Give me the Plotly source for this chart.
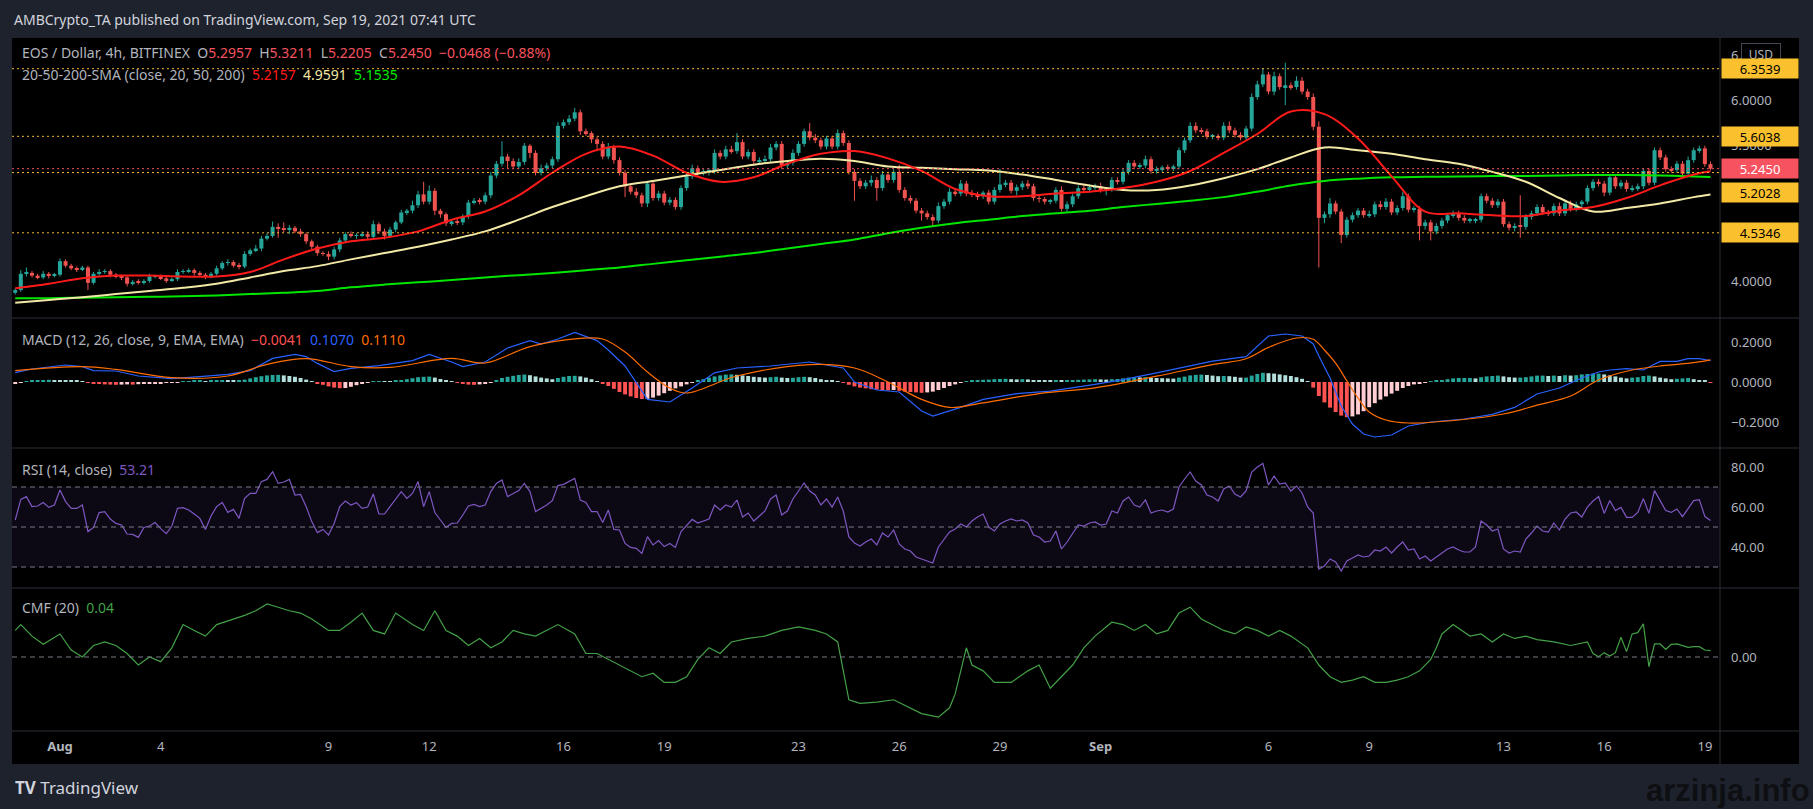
import pandas as pd
import plotly.graph_objects as go

W, H = 1813, 809

# ---------------------------------------------------------------------------
# values: EOS / Dollar, 4h bars, Bitfinex
# ---------------------------------------------------------------------------
first_bar = "2021-07-30 16:00"
first_open = 3.87

closes = [
    3.90, 4.08, 4.09, 4.06, 4.04, 4.08, 4.06, 4.07, 4.22, 4.17, 4.14, 4.13,
    4.15, 3.98, 4.08, 4.10, 4.11, 4.07, 4.05, 4.04, 3.97, 3.99, 3.98, 4.00,
    4.05, 4.05, 4.03, 4.01, 4.02, 4.10, 4.11, 4.12, 4.09, 4.07, 4.05, 4.08,
    4.14, 4.20, 4.21, 4.17, 4.16, 4.30, 4.34, 4.36, 4.47, 4.50, 4.60, 4.58,
    4.57, 4.59, 4.55, 4.52, 4.44, 4.38, 4.31, 4.30, 4.27, 4.35, 4.45, 4.52,
    4.50, 4.51, 4.52, 4.49, 4.63, 4.55, 4.50, 4.57, 4.65, 4.76, 4.78, 4.84,
    4.96, 4.88, 5.00, 4.78, 4.74, 4.64, 4.66, 4.65, 4.72, 4.87, 4.89, 4.88,
    4.95, 5.17, 5.30, 5.38, 5.33, 5.27, 5.32, 5.50, 5.42, 5.20, 5.25, 5.28,
    5.35, 5.72, 5.76, 5.80, 5.87, 5.66, 5.64, 5.57, 5.52, 5.38, 5.48, 5.34,
    5.20, 5.05, 4.99, 4.95, 4.86, 5.08, 4.92, 4.97, 4.87, 4.90, 4.82, 5.03,
    5.16, 5.25, 5.20, 5.21, 5.22, 5.42, 5.38, 5.46, 5.44, 5.54, 5.38, 5.43,
    5.33, 5.34, 5.35, 5.48, 5.52, 5.28, 5.31, 5.42, 5.52, 5.66, 5.59, 5.56,
    5.49, 5.58, 5.49, 5.64, 5.53, 5.21, 5.11, 5.05, 5.09, 5.12, 5.03, 5.18,
    5.12, 5.21, 5.01, 4.92, 4.89, 4.78, 4.75, 4.71, 4.67, 4.83, 4.88, 4.99,
    4.97, 5.08, 4.97, 4.96, 4.94, 4.98, 4.88, 5.01, 5.07, 5.09, 5.00, 5.04,
    5.08, 5.05, 4.92, 4.91, 4.88, 4.89, 5.01, 4.80, 4.85, 4.94, 5.03, 5.01,
    5.04, 5.05, 5.01, 5.02, 5.12, 5.10, 5.21, 5.31, 5.27, 5.28, 5.35, 5.22,
    5.24, 5.26, 5.25, 5.27, 5.45, 5.56, 5.72, 5.67, 5.66, 5.60, 5.60, 5.59,
    5.72, 5.67, 5.62, 5.59, 5.69, 6.04, 6.18, 6.29, 6.10, 6.27, 6.15, 6.17,
    6.15, 6.22, 6.10, 6.04, 5.71, 4.70, 4.74, 4.86, 4.77, 4.51, 4.68, 4.73,
    4.78, 4.73, 4.74, 4.85, 4.82, 4.88, 4.76, 4.81, 4.94, 4.79, 4.80, 4.61,
    4.65, 4.55, 4.61, 4.67, 4.73, 4.75, 4.70, 4.67, 4.67, 4.68, 4.94, 4.89,
    4.84, 4.88, 4.63, 4.59, 4.61, 4.60, 4.71, 4.75, 4.82, 4.76, 4.75, 4.83,
    4.75, 4.86, 4.80, 4.85, 4.88, 5.03, 5.10, 5.08, 4.98, 5.15, 5.05, 5.09,
    5.02, 5.03, 5.05, 5.22, 5.09, 5.45, 5.37, 5.24, 5.23, 5.30, 5.19, 5.34,
    5.45, 5.47, 5.2957, 5.2450,
]

# wick length above / below the body, in cents
wick_up = [
    2, 4, 6, 2, 2, 3, 2, 2, 3, 2, 2, 2,
    2, 2, 2, 3, 2, 2, 2, 2, 2, 2, 3, 2,
    3, 2, 2, 2, 2, 3, 2, 2, 2, 2, 2, 2,
    3, 2, 3, 2, 3, 3, 2, 4, 3, 3, 6, 4,
    7, 3, 2, 3, 2, 2, 2, 2, 3, 3, 3, 2,
    3, 2, 3, 3, 4, 2, 3, 3, 2, 3, 2, 5,
    4, 14, 6, 3, 2, 2, 2, 3, 2, 3, 3, 3,
    3, 4, 3, 17, 3, 3, 4, 3, 2, 3, 4, 3,
    3, 4, 3, 4, 5, 3, 3, 2, 3, 3, 5, 3,
    3, 3, 3, 4, 3, 3, 4, 3, 3, 3, 3, 3,
    3, 4, 3, 3, 3, 4, 3, 4, 4, 10, 3, 3,
    3, 3, 4, 4, 3, 3, 3, 4, 3, 3, 9, 4,
    3, 3, 3, 4, 3, 3, 3, 3, 3, 5, 3, 4,
    3, 3, 8, 3, 3, 3, 3, 3, 3, 4, 3, 4,
    3, 4, 3, 4, 3, 2, 3, 3, 17, 3, 3, 3,
    3, 4, 3, 3, 2, 2, 3, 4, 3, 3, 3, 4,
    3, 3, 4, 2, 3, 3, 4, 3, 3, 3, 4, 3,
    3, 2, 3, 2, 3, 3, 4, 4, 3, 3, 3, 3,
    4, 5, 3, 3, 3, 4, 4, 7, 3, 5, 3, 25,
    3, 5, 4, 3, 4, 6, 3, 6, 3, 3, 3, 3,
    3, 3, 4, 3, 4, 4, 3, 3, 5, 3, 3, 3,
    3, 3, 3, 3, 2, 3, 3, 3, 3, 2, 3, 3,
    3, 3, 3, 3, 3, 34, 3, 3, 3, 3, 3, 3,
    4, 3, 3, 3, 2, 3, 3, 3, 3, 3, 3, 3,
    3, 3, 3, 3, 3, 3, 3, 3, 3, 3, 3, 4,
    3, 3, 3, 3,
]
wick_down = [
    2, 2, 3, 2, 2, 2, 3, 2, 2, 2, 2, 3,
    2, 8, 2, 2, 2, 3, 2, 3, 3, 2, 2, 2,
    2, 2, 2, 3, 2, 2, 2, 2, 3, 2, 3, 2,
    2, 2, 3, 2, 3, 2, 2, 2, 3, 2, 2, 10,
    3, 5, 2, 3, 3, 3, 3, 2, 4, 3, 3, 3,
    2, 3, 2, 3, 3, 3, 4, 2, 3, 2, 3, 3,
    3, 3, 3, 5, 4, 3, 3, 3, 3, 3, 2, 3,
    3, 3, 3, 3, 8, 3, 3, 3, 6, 3, 3, 3,
    3, 3, 3, 3, 3, 4, 3, 4, 8, 3, 3, 4,
    3, 12, 3, 3, 4, 4, 3, 3, 3, 3, 3, 3,
    3, 3, 3, 3, 4, 3, 3, 3, 3, 3, 3, 3,
    4, 3, 3, 3, 3, 4, 3, 3, 3, 3, 3, 3,
    3, 3, 3, 3, 3, 3, 22, 3, 3, 4, 14, 3,
    3, 3, 3, 3, 3, 3, 8, 3, 6, 3, 3, 3,
    3, 3, 3, 3, 4, 3, 3, 3, 3, 3, 3, 5,
    3, 3, 3, 4, 3, 3, 3, 3, 4, 3, 3, 3,
    3, 3, 3, 6, 3, 3, 3, 3, 3, 3, 3, 3,
    3, 3, 3, 3, 3, 3, 3, 3, 3, 3, 3, 3,
    3, 3, 3, 3, 3, 3, 3, 3, 3, 4, 3, 20,
    3, 3, 3, 3, 4, 55, 6, 4, 3, 9, 3, 3,
    3, 3, 3, 3, 3, 3, 3, 3, 3, 3, 3, 16,
    4, 10, 3, 3, 3, 3, 3, 3, 3, 3, 3, 3,
    3, 3, 3, 3, 4, 12, 3, 3, 3, 3, 3, 3,
    3, 3, 3, 3, 3, 3, 3, 3, 4, 3, 3, 3,
    3, 3, 3, 3, 3, 3, 3, 3, 3, 3, 3, 3,
    3, 3, 3, 2,
]

# moving averages, read once per day (bar numbers)
sma_bars = list(range(0, 301, 6)) + [303]
sma20 = [3.92, 3.97, 4.03, 4.06, 4.06, 4.05, 4.05, 4.10, 4.24, 4.36,
         4.44, 4.48, 4.55, 4.68, 4.77, 4.95, 5.20, 5.41, 5.49, 5.39,
         5.20, 5.10, 5.15, 5.30, 5.41, 5.44, 5.36, 5.22, 5.02, 4.94,
         4.94, 4.97, 4.99, 5.03, 5.10, 5.22, 5.42, 5.63, 5.88, 5.85,
         5.58, 5.16, 4.77, 4.75, 4.73, 4.72, 4.78, 4.82, 4.92, 5.06,
         5.18, 5.2157]
sma50 = [3.76, 3.79, 3.82, 3.855, 3.89, 3.925, 3.97, 4.04, 4.11, 4.165,
         4.24, 4.31, 4.38, 4.46, 4.55, 4.68, 4.82, 4.94, 5.05, 5.11,
         5.17, 5.23, 5.29, 5.33, 5.355, 5.33, 5.27, 5.255, 5.24, 5.225,
         5.18, 5.12, 5.06, 5.01, 5.01, 5.06, 5.14, 5.24, 5.37, 5.48,
         5.45, 5.41, 5.35, 5.30, 5.21, 5.10, 4.92, 4.77, 4.81, 4.86,
         4.93, 4.9591]
sma200 = [3.81, 3.81, 3.815, 3.82, 3.825, 3.83, 3.84, 3.855, 3.87, 3.89,
          3.93, 3.96, 3.985, 4.01, 4.04, 4.065, 4.09, 4.12, 4.15, 4.19,
          4.23, 4.27, 4.31, 4.36, 4.41, 4.46, 4.53, 4.59, 4.64, 4.68,
          4.72, 4.75, 4.78, 4.82, 4.855, 4.89, 4.93, 4.99, 5.06, 5.11,
          5.135, 5.15, 5.155, 5.16, 5.163, 5.165, 5.17, 5.175, 5.175, 5.17,
          5.16, 5.1535]

# MACD (12, 26, 9)
macd_bars = [0, 3, 9, 12, 14, 18, 22, 28, 33, 38, 42, 46, 50, 52, 54, 57, 60,
             65, 71, 74, 78, 80, 84, 88, 92, 94, 97, 100, 104, 106, 109, 113,
             117, 121, 125, 129, 135, 142, 148, 150, 154, 158, 162, 164, 169,
             173, 179, 185, 193, 198, 204, 208, 214, 220, 224, 227, 230, 232,
             233, 235, 237, 239, 241, 243, 246, 249, 253, 259, 264, 268, 272,
             276, 280, 283, 285, 288, 291, 292, 294, 297, 299, 301, 303]
macd_line = [0.047, 0.065, 0.085, 0.077, 0.057, 0.055, 0.030, 0.017, 0.027,
             0.038, 0.057, 0.118, 0.138, 0.127, 0.093, 0.052, 0.068, 0.082,
             0.107, 0.138, 0.100, 0.077, 0.100, 0.170, 0.207, 0.190, 0.215,
             0.248, 0.207, 0.160, 0.080, -0.087, -0.100, -0.030, 0.046, 0.070,
             0.080, 0.100, 0.070, 0.000, -0.040, -0.050, -0.145, -0.170,
             -0.127, -0.087, -0.058, -0.046, -0.012, 0.012, 0.046, 0.070,
             0.104, 0.127, 0.230, 0.240, 0.230, 0.190, 0.130, 0.020, -0.120,
             -0.210, -0.260, -0.275, -0.265, -0.220, -0.200, -0.185, -0.162,
             -0.127, -0.060, -0.030, 0.020, 0.050, 0.060, 0.067, 0.060, 0.075,
             0.103, 0.103, 0.117, 0.117, 0.107]
signal_bars = [0, 12, 18, 28, 38, 45, 52, 60, 67, 78, 84, 92, 101, 105, 109,
               113, 117, 120, 129, 142, 150, 156, 162, 167, 173, 183, 193, 204,
               214, 220, 224, 229, 232, 234, 236, 238, 240, 242, 245, 249, 258,
               266, 272, 278, 283, 289, 295, 300, 303]
signal_line = [0.057, 0.077, 0.063, 0.022, 0.030, 0.088, 0.117, 0.077, 0.073,
               0.118, 0.095, 0.177, 0.218, 0.215, 0.150, 0.050, -0.030, -0.055,
               0.030, 0.087, 0.070, 0.000, -0.087, -0.127, -0.104, -0.058,
               -0.029, 0.029, 0.087, 0.116, 0.173, 0.220, 0.214, 0.160, 0.094,
               0.006, -0.080, -0.150, -0.190, -0.205, -0.190, -0.160, -0.116,
               -0.070, 0.010, 0.060, 0.083, 0.097, 0.111]
# histogram, one column per bar, in thousandths
macd_hist = [
    -6, -3, 4, 7, 9, 10, 11, 10, 9, 8, 7, 6,
    3, -4, -8, -10, -12, -13, -14, -13, -12, -13, -11, -9,
    -8, -7, -6, -5, -4, -2, 3, 5, 6, 6, 5, 6,
    7, 8, 7, 6, 8, 12, 18, 24, 29, 33, 35, 36,
    33, 30, 26, 20, 12, 4, -6, -14, -22, -28, -31, -30,
    -24, -16, -8, -3, 2, 3, 2, 1, 6, 10, 14, 19,
    24, 26, 27, 22, 15, 8, 3, -4, -9, -13, -14, -12,
    -8, -2, 10, 20, 26, 31, 35, 37, 34, 28, 22, 18,
    14, 20, 26, 30, 31, 28, 22, 14, 4, -8, -20, -34,
    -50, -62, -72, -80, -85, -84, -78, -68, -56, -44, -32, -22,
    -12, -4, 6, 14, 22, 28, 33, 37, 38, 36, 33, 30,
    26, 24, 22, 24, 26, 22, 20, 21, 24, 26, 24, 20,
    14, 10, 6, 2, -4, -14, -22, -28, -32, -36, -38, -40,
    -42, -40, -44, -48, -50, -52, -54, -52, -48, -40, -30, -20,
    -12, -4, 3, 6, 9, 11, 12, 14, 15, 16, 14, 13,
    14, 13, 10, 8, 7, 6, 8, 6, 7, 9, 11, 12,
    13, 14, 13, 12, 14, 15, 18, 22, 24, 23, 24, 21,
    20, 19, 18, 17, 22, 27, 33, 36, 37, 35, 32, 29,
    30, 29, 26, 22, 22, 32, 40, 46, 44, 42, 38, 34,
    30, 24, 16, 2, -28, -70, -102, -128, -150, -168, -176, -172,
    -162, -146, -126, -106, -88, -72, -58, -44, -30, -20, -12, -6,
    -2, 2, 6, 10, 14, 18, 20, 20, 20, 18, 24, 28,
    30, 32, 28, 24, 22, 22, 24, 28, 32, 32, 30, 32,
    30, 34, 32, 34, 38, 40, 42, 42, 38, 33, 28, 22,
    18, 22, 24, 30, 32, 28, 22, 18, 14, 16, 18, 20,
    14, 10, 8, -4,
]

# RSI (14), one value per bar
rsi = [
    53.5, 63.8, 65.2, 60.2, 60.5, 62.2, 59.8, 61.0, 68.5, 62.7, 59.3, 59.3,
    61.0, 47.7, 49.8, 57.2, 57.7, 54.0, 51.8, 51.0, 46.5, 46.3, 44.8, 49.8,
    50.5, 52.2, 49.2, 46.7, 50.5, 59.3, 59.7, 58.5, 56.5, 54.3, 48.7, 55.5,
    60.2, 62.3, 57.3, 58.8, 54.3, 64.3, 66.8, 66.8, 72.7, 73.8, 77.7, 71.8,
    72.5, 73.8, 66.0, 66.3, 60.2, 52.7, 47.2, 48.8, 46.0, 51.8, 60.2, 63.0,
    61.0, 62.2, 59.3, 60.0, 66.5, 56.5, 56.5, 60.2, 63.5, 67.7, 64.3, 66.8,
    72.7, 60.2, 67.7, 57.2, 53.5, 49.8, 51.8, 52.0, 56.0, 60.5, 61.3, 60.2,
    61.0, 67.7, 71.8, 73.5, 65.2, 66.8, 68.2, 71.8, 67.7, 57.7, 59.3, 61.0,
    63.2, 70.7, 71.3, 72.7, 74.3, 63.5, 62.3, 57.7, 57.7, 52.2, 58.5, 48.8,
    48.5, 41.8, 39.8, 39.3, 36.8, 45.2, 41.0, 43.2, 40.2, 41.8, 39.8, 47.7,
    51.0, 53.8, 52.0, 53.0, 54.0, 61.0, 58.5, 61.0, 60.0, 63.5, 55.0, 57.0,
    53.0, 55.5, 58.0, 64.0, 66.0, 56.0, 58.0, 64.0, 68.0, 72.0, 68.0, 66.0,
    61.0, 64.0, 60.0, 65.0, 58.0, 45.0, 42.0, 40.5, 42.5, 44.0, 41.0, 47.0,
    45.0, 48.5, 41.5, 39.0, 38.0, 35.0, 34.0, 33.0, 32.0, 40.0, 43.5, 47.5,
    49.0, 51.5, 50.0, 53.0, 55.0, 56.5, 50.0, 48.0, 51.5, 53.0, 54.0, 53.0,
    53.5, 52.0, 46.0, 45.0, 42.5, 43.0, 48.0, 39.0, 42.5, 47.0, 51.0, 50.5,
    52.0, 52.5, 51.0, 51.5, 58.0, 57.0, 63.0, 65.0, 61.0, 60.0, 63.5, 57.0,
    58.0, 58.5, 57.5, 59.0, 70.0, 74.0, 77.5, 73.0, 71.0, 66.0, 65.0, 63.0,
    69.0, 70.5, 66.5, 65.0, 68.0, 77.5, 80.0, 81.8, 71.0, 75.5, 71.5, 72.0,
    68.0, 70.5, 67.0, 60.0, 57.0, 29.0, 30.5, 34.0, 32.5, 28.0, 33.0, 34.5,
    36.0, 35.0, 35.5, 38.5, 38.0, 40.0, 37.0, 40.0, 42.5, 38.5, 39.0, 34.0,
    35.5, 33.0, 35.0, 37.0, 39.0, 40.0, 38.5, 37.5, 37.5, 40.0, 53.0, 51.0,
    48.0, 49.0, 39.0, 37.0, 38.0, 37.5, 44.0, 47.0, 50.5, 48.0, 47.5, 52.0,
    48.5, 54.0, 57.0, 57.5, 55.0, 60.0, 63.0, 65.2, 56.8, 63.2, 58.2, 59.8,
    54.8, 54.8, 57.3, 64.2, 56.8, 68.2, 63.2, 58.2, 57.3, 59.0, 55.2, 59.5,
    63.2, 63.7, 55.2, 53.21,
]

# CMF (20)
cmf_bars = [0, 1, 3, 5, 8, 10, 12, 14, 16, 18, 20, 22, 24, 26, 28, 30, 32, 34,
            36, 39, 41, 43, 45, 47, 49, 51, 53, 56, 58, 60, 62, 64, 66, 68, 71,
            73, 75, 77, 79, 81, 83, 85, 87, 89, 91, 93, 95, 97, 100, 102, 104,
            106, 108, 110, 112, 114, 116, 118, 120, 122, 124, 126, 128, 131,
            134, 137, 140, 143, 145, 147, 148, 149, 151, 154, 157, 160, 162,
            165, 167, 168, 169, 170, 171, 173, 175, 178, 181, 183, 185, 187,
            189, 191, 193, 196, 198, 200, 202, 204, 206, 208, 210, 212, 214,
            216, 218, 220, 222, 224, 226, 228, 231, 233, 235, 237, 239, 241,
            243, 245, 247, 249, 251, 253, 254, 255, 257, 260, 262, 264, 266,
            268, 270, 272, 275, 278, 281, 282, 283, 284, 285, 286, 287, 288,
            289, 290, 291, 292, 293, 294, 295, 296, 297, 298, 299, 300, 301,
            302, 303]
cmf = [0.159, 0.194, 0.125, 0.076, 0.138, 0.042, 0.0, 0.069, 0.09, 0.069,
       0.021, -0.048, 0.0, -0.028, 0.055, 0.194, 0.159, 0.125, 0.194, 0.228,
       0.249, 0.277, 0.318, 0.298, 0.277, 0.263, 0.228, 0.159, 0.159, 0.208,
       0.263, 0.159, 0.138, 0.263, 0.194, 0.159, 0.277, 0.159, 0.125, 0.069,
       0.111, 0.055, 0.09, 0.159, 0.138, 0.125, 0.159, 0.194, 0.138, 0.021,
       0.021, -0.014, -0.048, -0.083, -0.118, -0.097, -0.152, -0.152, -0.118, -0.014,
       0.055, 0.021, 0.09, 0.111, 0.125, 0.159, 0.18, 0.159, 0.138, 0.09,
       -0.083, -0.256, -0.277, -0.27, -0.256, -0.304, -0.339, -0.36, -0.304, -0.221,
       -0.083, 0.055, -0.048, -0.083, -0.152, -0.152, -0.083, -0.048, -0.187, -0.118,
       -0.048, 0.055, 0.125, 0.208, 0.194, 0.159, 0.194, 0.138, 0.159, 0.263,
       0.298, 0.228, 0.194, 0.159, 0.138, 0.18, 0.159, 0.125, 0.159, 0.125,
       0.055, -0.048, -0.118, -0.152, -0.138, -0.118, -0.152, -0.152, -0.138, -0.118,
       -0.083, -0.014, 0.055, 0.138, 0.194, 0.125, 0.138, 0.09, 0.138, 0.111,
       0.125, 0.104, 0.09, 0.069, 0.09, 0.021, 0.002, 0.026, 0.006, 0.026,
       0.118, 0.032, 0.138, 0.146, 0.198, -0.058, 0.078, 0.078, 0.046, 0.076,
       0.078, 0.066, 0.058, 0.062, 0.062, 0.042, 0.038]

# horizontal levels drawn on the chart, and the last price
levels = [6.3539, 5.6038, 5.2028, 4.5346]
last_price = 5.2450

x_ticks = ["2021-08-01", "2021-08-04", "2021-08-09", "2021-08-12", "2021-08-16",
           "2021-08-19", "2021-08-23", "2021-08-26", "2021-08-29", "2021-09-01",
           "2021-09-06", "2021-09-09", "2021-09-13", "2021-09-16", "2021-09-19"]
x_labels = ["<b>Aug</b>", "4", "9", "12", "16", "19", "23", "26", "29",
            "<b>Sep</b>", "6", "9", "13", "16", "19"]

# ---------------------------------------------------------------------------
FONT = "Noto Sans, DejaVu Sans, sans-serif"
TXT = "#b2b5be"
UP, DOWN = "#26a69a", "#ef5350"
BAR_MS = 4 * 3600 * 1000


def px(xp):
    return xp / W


def py(yp):
    return 1 - yp / H


times = pd.date_range(first_bar, periods=len(closes), freq="4h")
opens = [first_open] + closes[:-1]
highs = [max(o, c) + u / 100 for o, c, u in zip(opens, closes, wick_up)]
lows = [min(o, c) - d / 100 for o, c, d in zip(opens, closes, wick_down)]
rising = [c >= o for o, c in zip(opens, closes)]

fig = go.Figure()

# wicks, then bodies
for flag, col in ((True, UP), (False, DOWN)):
    wx, wy = [], []
    for t, lo, hi, r in zip(times, lows, highs, rising):
        if r == flag:
            wx += [t, t, None]
            wy += [lo, hi, None]
    fig.add_trace(go.Scatter(x=wx, y=wy, mode="lines", line=dict(color=col, width=1),
                             xaxis="x", yaxis="y"))

fig.add_trace(go.Bar(
    x=times, y=[max(abs(c - o), 0.009) for o, c in zip(opens, closes)],
    base=[min(o, c) for o, c in zip(opens, closes)], width=BAR_MS * 0.72,
    marker=dict(color=[UP if r else DOWN for r in rising], line=dict(width=0)),
    xaxis="x", yaxis="y"))

sma_t = [times[b] for b in sma_bars]
for vals, col in ((sma200, "#00e600"), (sma50, "#f3e9a6"), (sma20, "#ff1a1a")):
    fig.add_trace(go.Scatter(x=sma_t, y=vals, mode="lines", line=dict(color=col, width=2, shape="spline"),
                             xaxis="x", yaxis="y"))

# MACD pane
hist = [v / 1000 for v in macd_hist]
hist_cols = []
for k, v in enumerate(hist):
    prev = hist[k - 1] if k else v
    if v >= 0:
        hist_cols.append("#26a69a" if v >= prev else "#b2dfdb")
    else:
        hist_cols.append("#ff5252" if v < prev else "#ffcdd2")
fig.add_trace(go.Bar(x=times, y=hist, width=BAR_MS * 0.7,
                     marker=dict(color=hist_cols, line=dict(width=0)), xaxis="x", yaxis="y2"))
fig.add_trace(go.Scatter(x=[times[b] for b in macd_bars], y=macd_line, mode="lines",
                         line=dict(color="#2962ff", width=1.2), xaxis="x", yaxis="y2"))
fig.add_trace(go.Scatter(x=[times[b] for b in signal_bars], y=signal_line, mode="lines",
                         line=dict(color="#ff6d00", width=1.2, shape="spline"), xaxis="x", yaxis="y2"))

# RSI pane
fig.add_trace(go.Scatter(x=times, y=rsi, mode="lines", line=dict(color="#7e57c2", width=1.2),
                         xaxis="x", yaxis="y3"))

# CMF pane
fig.add_trace(go.Scatter(x=[times[b] for b in cmf_bars], y=cmf, mode="lines",
                         line=dict(color="#43a047", width=1.2), xaxis="x", yaxis="y4"))

# ---------------------------------------------------------------------------
shapes = [dict(type="rect", xref="paper", yref="paper", x0=px(12), x1=px(1799), y0=py(764), y1=py(38),
               fillcolor="#000000", line=dict(width=0), layer="below"),
          dict(type="rect", xref="x domain", yref="y3", x0=0, x1=1, y0=30, y1=70,
               fillcolor="rgba(126,87,194,0.10)", line=dict(width=0), layer="below")]
for yy in (318, 448, 588, 731):
    shapes.append(dict(type="line", xref="paper", yref="paper", x0=px(12), x1=px(1799),
                       y0=py(yy), y1=py(yy), line=dict(color="#2a2e39", width=1)))
shapes.append(dict(type="line", xref="paper", yref="paper", x0=px(1720), x1=px(1720),
                   y0=py(764), y1=py(38), line=dict(color="#2a2e39", width=1)))
for lv in levels:
    shapes.append(dict(type="line", xref="x domain", yref="y", x0=0, x1=1, y0=lv, y1=lv,
                       line=dict(color="#f5b52e", width=1, dash="2px,3px")))
shapes.append(dict(type="line", xref="x domain", yref="y", x0=0, x1=1, y0=last_price, y1=last_price,
                   line=dict(color="#f7525f", width=1, dash="2px,3px")))
for lv in (70, 50, 30):
    shapes.append(dict(type="line", xref="x domain", yref="y3", x0=0, x1=1, y0=lv, y1=lv,
                       line=dict(color="#787b86", width=1, dash="5px,4px")))
shapes.append(dict(type="line", xref="x domain", yref="y4", x0=0, x1=1, y0=0, y1=0,
                   line=dict(color="#787b86", width=1, dash="5px,4px")))


def span(text, col):
    return f"<span style='color:{col}'>{text}</span>"


S = "\u00a0\u00a0"
red = "#f7525f"
LEG = dict(size=14, color=TXT)
annotations = [
    dict(x=px(12), y=py(20), text="AMBCrypto_TA published on TradingView.com, Sep 19, 2021 07:41 UTC",
         font=dict(size=14, color="#d1d4dc")),
    dict(x=px(20), y=py(53), font=LEG,
         text="EOS / Dollar, 4h, BITFINEX" + S + "O" + span("5.2957", red) + S + "H" + span("5.3211", red)
         + S + "L" + span("5.2205", red) + S + "C" + span("5.2450", red) + S + span("\u22120.0468 (\u22120.88%)", red)),
    dict(x=px(20), y=py(74), font=LEG,
         text="20-50-200-SMA (close, 20, 50, 200)" + S + span("5.2157", "#ff1a1a") + S
         + span("4.9591", "#f3e9a6") + S + span("5.1535", "#00e600")),
    dict(x=px(20), y=py(339), font=LEG,
         text="MACD (12, 26, close, 9, EMA, EMA)" + S + span("\u22120.0041", "#ff5252") + S
         + span("0.1070", "#2962ff") + S + span("0.1110", "#ff6d00")),
    dict(x=px(20), y=py(469), font=LEG, text="RSI (14, close)" + S + span("53.21", "#7e57c2")),
    dict(x=px(20), y=py(607), font=LEG, text="CMF (20)" + S + span("0.04", "#43a047")),
    dict(x=px(13), y=py(787), text="<b>TV</b>\u00a0TradingView", font=dict(size=17, color="#d1d4dc")),
    dict(x=px(1812), y=py(790), xanchor="right", text="<b>arzinja.info</b>",
         font=dict(size=31, color="#0e0f12", family="Liberation Sans, Arial, sans-serif")),
    dict(x=px(1761), y=py(54), xanchor="center", text="USD", bgcolor="#000000", bordercolor="#434651",
         borderwidth=1, borderpad=2, width=34, font=dict(size=12, color=TXT)),
]
# price tags on the right axis (5.2028 sits pushed below the last-price tag)
tags = [(6.3539, 6.3539, "#fbc02d", "#000000"), (5.6038, 5.6038, "#fbc02d", "#000000"),
        (5.2450, 5.2450, "#f7525f", "#ffffff"), (5.2028, 4.976, "#fbc02d", "#000000"),
        (4.5346, 4.5346, "#fbc02d", "#000000")]
for val, ypos, bg, fg in tags:
    annotations.append(dict(x=px(1721), y=ypos, yref="y", xanchor="left", text=f"{val:.4f}",
                            bgcolor=bg, font=dict(size=13, color=fg), width=72, height=15,
                            borderpad=2, align="center"))
for a in annotations:
    a.setdefault("xref", "paper")
    a.setdefault("yref", "paper")
    a.setdefault("xanchor", "left")
    a.setdefault("yanchor", "middle")
    a.setdefault("showarrow", False)
    a.setdefault("font", dict(size=13, color=TXT))

yax = dict(side="right", anchor="x", showgrid=False, zeroline=False, showline=False, ticks="",
           tickfont=dict(size=13, color=TXT, family=FONT), ticklabelstandoff=10, fixedrange=True)

fig.update_layout(
    width=W, height=H, margin=dict(l=0, r=0, t=0, b=0),
    paper_bgcolor="#1e222d", plot_bgcolor="rgba(0,0,0,0)",
    font=dict(family=FONT, size=13, color=TXT),
    showlegend=False, hovermode=False, dragmode=False, barmode="overlay",
    xaxis=dict(domain=[px(12), px(1720)], anchor="y4", type="date",
               range=["2021-07-30 13:42", "2021-09-19 10:48"],
               tickvals=x_ticks, ticktext=x_labels, showgrid=False, zeroline=False,
               showline=False, ticks="", ticklabelstandoff=6,
               tickfont=dict(size=13, color=TXT, family=FONT), fixedrange=True),
    # 4.5 and 5.0 sit fully under the price tags in the reference, so only the visible ones stay
    yaxis=dict(yax, domain=[py(318), py(38)], range=[3.59, 6.694],
               tickvals=[4.0, 5.5, 6.0, 6.5], tickformat=".4f"),
    yaxis2=dict(yax, domain=[py(448), py(318)], range=[-0.33, 0.32],
                tickvals=[-0.2, 0.0, 0.2], tickformat=".4f"),
    yaxis3=dict(yax, domain=[py(588), py(448)], range=[19.5, 89.5],
                tickvals=[40, 60, 80], tickformat=".2f"),
    yaxis4=dict(yax, domain=[py(731), py(588)], range=[-0.443, 0.413],
                tickvals=[0.0], tickformat=".2f"),
    shapes=shapes, annotations=annotations,
)

# the page's default body margin would shift the figure; drop it
fig.write_html("out.html", config={"displayModeBar": False},
               post_script="document.body.style.margin='0';document.body.style.overflow='hidden';")
